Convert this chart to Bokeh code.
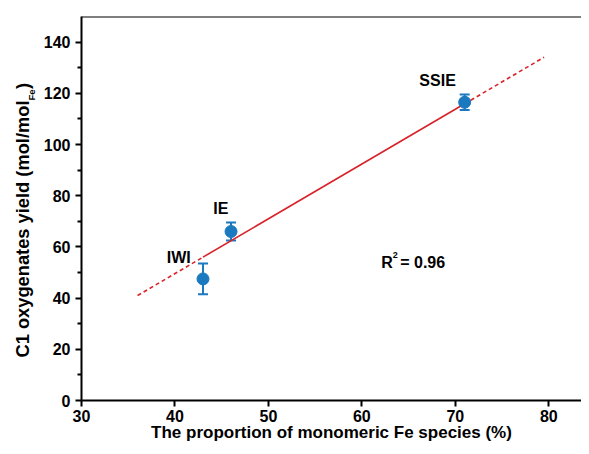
import math
from bokeh.plotting import figure
from bokeh.layouts import row
from bokeh.models import Label, Span, Whisker, ColumnDataSource, FixedTicker, Range1d
from bokeh.embed import file_html
from bokeh.resources import INLINE

# data
samples = ["IWI", "IE", "SSIE"]
mono_fe = [43.0, 46.0, 71.0]
c1_yield = [47.5, 66.0, 116.5]
err = [6.0, 3.5, 3.0]
fit_solid_x = [43.0, 71.0]
fit_solid_y = [56.0, 115.9]
fit_dash_lo_x = [36.0, 43.0]
fit_dash_lo_y = [41.0, 56.0]
fit_dash_hi_x = [71.0, 79.5]
fit_dash_hi_y = [115.9, 134.1]
label_x = [40.4, 44.9, 68.1]
label_y = [56.0, 75.0, 125.0]
x_ticks = [30, 40, 50, 60, 70, 80]
y_ticks = [0, 20, 40, 60, 80, 100, 120, 140]
y_minor = [10, 30, 50, 70, 90, 110, 130]

FONT = "Liberation Sans"
BLUE = "#1b79c0"
RED = "#d9232a"
W, H = 581, 446
LW = 40            # width of the y-label strip
TOP, BOTTOM = 16, 46

# ---- left strip holding the rotated y-axis title (1 data unit = 1 px, y from page top) ----
lab = figure(width=LW, height=H, output_backend="svg", toolbar_location=None,
             x_range=Range1d(0, LW), y_range=Range1d(H - BOTTOM, TOP),
             x_axis_location=None, y_axis_location=None,
             min_border_left=0, min_border_right=0,
             min_border_top=TOP, min_border_bottom=BOTTOM)
lab.outline_line_color = None
lab.grid.visible = False
lab.border_fill_color = "white"
lab.background_fill_color = "white"
lab.add_layout(Label(x=21.5, y=357, text="C1 oxygenates yield (mol/mol", angle=math.pi / 2,
                     text_font=FONT, text_font_style="bold", text_font_size="18.3px",
                     text_color="black", text_align="left", text_baseline="alphabetic"))
lab.add_layout(Label(x=31, y=100, text="Fe", angle=math.pi / 2,
                     text_font=FONT, text_font_style="bold", text_font_size="9.5px",
                     text_color="black", text_align="left", text_baseline="alphabetic"))
lab.add_layout(Label(x=21.5, y=88.5, text=")", angle=math.pi / 2,
                     text_font=FONT, text_font_style="bold", text_font_size="18.3px",
                     text_color="black", text_align="left", text_baseline="alphabetic"))

# ---- main plot ----
p = figure(width=W - LW, height=H, output_backend="svg", toolbar_location=None,
           x_range=Range1d(30, 83.5), y_range=Range1d(0, 150),
           min_border_left=81 - LW, min_border_right=0,
           min_border_top=TOP, min_border_bottom=BOTTOM)
p.outline_line_color = None
p.grid.visible = False
p.background_fill_color = "white"
p.border_fill_color = "white"

for ax in (p.xaxis[0], p.yaxis[0]):
    ax.axis_line_width = 2
    ax.major_tick_line_width = 2
    ax.minor_tick_line_width = 2
    ax.major_tick_out = 6
    ax.major_tick_in = 0
    ax.minor_tick_in = 0
    ax.major_label_text_font = FONT
    ax.major_label_text_font_style = "bold"
    ax.major_label_text_font_size = "16px"
    ax.major_label_text_color = "black"

p.xaxis.ticker = FixedTicker(ticks=x_ticks)
p.xaxis.minor_tick_out = 0
p.yaxis.ticker = FixedTicker(ticks=y_ticks, minor_ticks=y_minor)
p.yaxis.minor_tick_out = 4
p.xaxis.major_label_standoff = 3
p.yaxis.major_label_standoff = 5

p.xaxis.axis_label = "The proportion of monomeric Fe species (%)"
p.xaxis.axis_label_text_font = FONT
p.xaxis.axis_label_text_font_style = "bold"
p.xaxis.axis_label_text_font_size = "17px"
p.xaxis.axis_label_text_color = "black"
p.xaxis.axis_label_standoff = -2

# top border
p.add_layout(Span(location=150, dimension="width", line_color="black", line_width=2))

# fit line
p.line(fit_solid_x, fit_solid_y, line_color=RED, line_width=1.6)
p.line(fit_dash_lo_x, fit_dash_lo_y, line_color=RED, line_width=1.6, line_dash="4 3")
p.line(fit_dash_hi_x, fit_dash_hi_y, line_color=RED, line_width=1.6, line_dash="4 3")

src = ColumnDataSource(dict(x=mono_fe, y=c1_yield,
                            lo=[v - e for v, e in zip(c1_yield, err)],
                            hi=[v + e for v, e in zip(c1_yield, err)]))
w = Whisker(base="x", lower="lo", upper="hi", source=src, dimension="height",
            line_color=BLUE, line_width=2)
for head in (w.upper_head, w.lower_head):
    head.size = 10
    head.line_color = BLUE
    head.line_width = 2
p.add_layout(w)
p.scatter("x", "y", source=src, size=12, fill_color=BLUE, line_color=BLUE)

for s, lx, ly in zip(samples, label_x, label_y):
    p.add_layout(Label(x=lx, y=ly, text=s, text_font=FONT, text_font_style="bold",
                       text_font_size="16px", text_color="black",
                       text_align="center", text_baseline="middle"))

p.add_layout(Label(x=63.3, y=54, text="R", text_font=FONT, text_font_style="bold",
                   text_font_size="16px", text_color="black",
                   text_align="right", text_baseline="middle"))
p.add_layout(Label(x=63.3, y=57, text="2", text_font=FONT, text_font_style="bold",
                   text_font_size="9px", text_color="black",
                   text_align="left", text_baseline="middle"))
p.add_layout(Label(x=64.1, y=54, text=" = 0.96", text_font=FONT, text_font_style="bold",
                   text_font_size="16px", text_color="black",
                   text_align="left", text_baseline="middle"))

layout = row(lab, p, spacing=0)
open("out.html", "w").write(file_html(layout, INLINE))
